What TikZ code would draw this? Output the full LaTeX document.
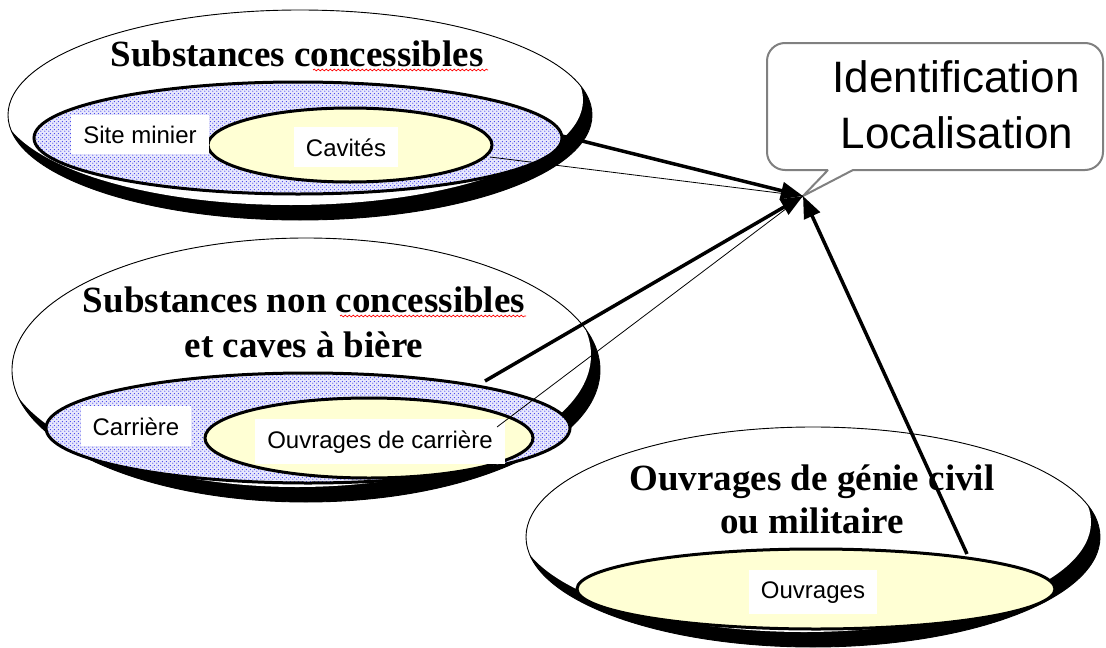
\documentclass[tikz,border=0pt]{standalone}
\usepackage{fontspec}
\setmainfont{Liberation Serif}
\setsansfont{Liberation Sans}
\usetikzlibrary{arrows.meta,patterns,decorations.pathmorphing,shapes.geometric}
\definecolor{dotblue}{RGB}{60,60,235}
\definecolor{paleblue}{RGB}{232,232,252}
\definecolor{paleyellow}{RGB}{255,255,212}
\definecolor{calloutgray}{RGB}{128,128,128}
\pgfdeclarepatternformonly{bluedots}{\pgfpointorigin}{\pgfpoint{4pt}{4pt}}{\pgfpoint{4pt}{4pt}}{%
  \pgfpathcircle{\pgfpoint{1pt}{1pt}}{0.75pt}%
  \pgfpathcircle{\pgfpoint{3pt}{3pt}}{0.75pt}%
  \pgfusepath{fill}}
\tikzset{
  outerell/.style={ellipse, draw=black, line width=0.9pt, inner sep=0pt, outer sep=0pt},
  blueell/.style={ellipse, draw=black, line width=3pt, preaction={fill=paleblue}, pattern=bluedots, pattern color=dotblue, inner sep=0pt},
  yellell/.style={ellipse, draw=black, line width=3pt, fill=paleyellow, inner sep=0pt},
  lab/.style={fill=white, font=\sffamily\fontsize{24}{28}\selectfont, inner xsep=12pt, inner ysep=11pt, anchor=base},
  ttl/.style={font=\bfseries\fontsize{37}{43}\selectfont, anchor=base, inner sep=0pt},
  big/.style={font=\sffamily\fontsize{44}{52}\selectfont, anchor=base, inner sep=0pt},
  thickarrow/.style={line width=3.5pt, -{Triangle[length=22pt,width=17pt]}},
  thinline/.style={line width=0.8pt},
  spell/.style={red, line width=0.7pt, decorate, decoration={snake, amplitude=0.9pt, segment length=4pt}},
}
\begin{document}
\begin{tikzpicture}[x=1pt,y=-1pt]
\useasboundingbox (0,0) rectangle (1106,648);

% ---------- group 1 ----------
\begin{scope}
  \clip (300,115) ellipse [x radius=292pt, y radius=105pt];
  \fill[black] (300,115) ellipse [x radius=292pt, y radius=105pt];
  \fill[white] (291,100) ellipse [x radius=292pt, y radius=105pt];
\end{scope}
\node[outerell, minimum width=584pt, minimum height=210pt] (out1) at (300,115) {};
\node[blueell, minimum width=528pt, minimum height=112pt] (site) at (298,138) {};
\node[yellell, minimum width=284pt, minimum height=74pt] (cav) at (350,145) {};
\node[lab] (lsite) at (140,143) {Site minier};
\node[lab] (lcav) at (346,156) {Cavités};
\node[ttl] (t1) at (297,66) {Substances concessibles};
\coordinate (w1s) at (313,70);
\coordinate (w1e) at (488,70);
\draw[spell] (w1s) -- (w1e);

% ---------- group 2 ----------
\begin{scope}
  \clip (306,370) ellipse [x radius=294pt, y radius=132pt];
  \fill[black] (306,370) ellipse [x radius=294pt, y radius=132pt];
  \fill[white] (297,355) ellipse [x radius=294pt, y radius=132pt];
\end{scope}
\node[outerell, minimum width=588pt, minimum height=264pt] (out2) at (306,370) {};
\node[blueell, minimum width=524pt, minimum height=110pt] (carr) at (308,428) {};
\node[yellell, minimum width=328pt, minimum height=80pt] (ouvc) at (369,438) {};
\node[lab] (lcarr) at (136,435) {Carrière};
\node[lab] (louvc) at (380,448) {Ouvrages de carrière};
\node[ttl] (t2a) at (304,312) {Substances non concessibles};
\node[ttl] (t2b) at (304,357) {et caves à bière};
\coordinate (w2s) at (340,316);
\coordinate (w2e) at (526,316);
\draw[spell] (w2s) -- (w2e);

% ---------- group 3 ----------
\begin{scope}
  \clip (813,537) ellipse [x radius=287pt, y radius=110pt];
  \fill[black] (813,537) ellipse [x radius=287pt, y radius=110pt];
  \fill[white] (804,522) ellipse [x radius=287pt, y radius=110pt];
\end{scope}
\node[outerell, minimum width=574pt, minimum height=220pt] (out3) at (813,537) {};
\node[yellell, minimum width=478pt, minimum height=80pt] (ouv) at (816,589) {};
\node[lab] (louv) at (813,598) {Ouvrages};
\node[ttl] (t3a) at (812,490) {Ouvrages de génie civil};
\node[ttl] (t3b) at (812,533) {ou militaire};

% ---------- callout ----------
\coordinate (tip) at (803,196);
\coordinate (tl) at (828,170);
\coordinate (tr) at (853,170);
\draw[calloutgray, line width=2pt, fill=white]
  (tl) -- (tip) -- (tr) [rounded corners=18pt] -- (1103,170) -- (1103,43) -- (767,43) -- (767,170) -- (tl);
\node[big] (id) at (956,92) {Identification};
\node[big] (loc) at (957,148) {Localisation};

% ---------- connectors ----------
\coordinate (a1) at (562,136);
\coordinate (b1) at (490,157);
\coordinate (a2) at (485,381);
\coordinate (b2) at (497,427);
\coordinate (a3) at (967,554);
\draw[thinline] (b1) -- (tip);
\draw[thinline] (b2) -- (tip);
\draw[thickarrow] (a1) -- (tip);
\draw[thickarrow] (a2) -- (tip);
\draw[thickarrow] (a3) -- (tip);
\end{tikzpicture}
\end{document}
